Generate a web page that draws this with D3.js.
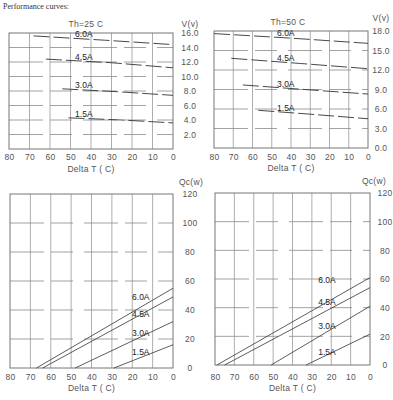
<!DOCTYPE html>
<html>
<head>
<meta charset="utf-8">
<script src="https://cdn.jsdelivr.net/npm/d3@7"></script>
<style>
  body { margin: 0; background: #fff; }
  svg text { font-family: 'Liberation Sans', Arial, sans-serif; font-size: 8.5px; fill: #555; letter-spacing: 0.3px; }
  svg text.clabel { fill: #222; letter-spacing: 0; }
  svg text.caption { font-family: 'Liberation Serif', 'Times New Roman', serif; font-size: 8px; fill: #333; letter-spacing: 0; }
</style>
</head>
<body>
<svg id="chart" width="393" height="400"></svg>
<script>
// tick values / labels
var deltaTTicks = [80, 70, 60, 50, 40, 30, 20, 10, 0];
var voltTicks25 = [2, 4, 6, 8, 10, 12, 14, 16];
var voltTicks50 = [0, 3, 6, 9, 12, 15, 18];
var qcTicks = [0, 20, 40, 60, 80, 100, 120];
var currentLabels = ['6.0A', '4.5A', '3.0A', '1.5A'];

// voltage vs delta T, Th = 25 C  ([deltaT, V])
var volt25_6A = [[68, 15.6], [33, 15.0], [0, 14.4]];
var volt25_45A = [[62, 12.4], [30, 11.9], [0, 11.2]];
var volt25_3A = [[54, 8.3], [27, 7.9], [0, 7.4]];
var volt25_15A = [[51, 4.3], [25, 4.0], [0, 3.6]];

// voltage vs delta T, Th = 50 C
var volt50_6A = [[80, 17.6], [40, 16.9], [0, 16.1]];
var volt50_45A = [[71, 13.8], [35, 13.0], [0, 12.2]];
var volt50_3A = [[65, 9.7], [33, 9.0], [0, 8.3]];
var volt50_15A = [[57, 5.8], [30, 5.2], [0, 4.5]];

// cooling power vs delta T, Th = 25 C  ([deltaT, Qc])
var qc25_6A = [[67, 0], [0, 55]];
var qc25_45A = [[64, 0], [0, 49]];
var qc25_3A = [[48, 0], [0, 32]];
var qc25_15A = [[29, 0], [0, 16]];

// cooling power vs delta T, Th = 50 C
var qc50_6A = [[79, 0], [0, 61]];
var qc50_45A = [[75, 0], [0, 54]];
var qc50_3A = [[51, 0], [0, 41]];
var qc50_15A = [[33, 0], [0, 21.5]];

// where the current labels sit on the Qc charts
var qcLabelAt25 = [47, 35, 22, 9];
var qcLabelAt50 = [57, 42, 25, 7];

var svg = d3.select('#chart');

svg.append('text')
  .attr('class', 'caption')
  .attr('x', 3)
  .attr('y', 9)
  .text('Performance curves:');

var panels = [
  { left: 9, right: 173, top: 33, bottom: 149, yDomain: [0, 16], yTicks: voltTicks25, fmt: d3.format('.1f'),
    curves: [volt25_6A, volt25_45A, volt25_3A, volt25_15A], dashed: true, labelDeltaT: 43.5,
    title: 'Th=25 C', titleX: 86, titleY: 27, yTitle: 'V(v)', yLabelX: 190, yTitleX: 190, yTitleY: 27, xAxisY: 154, xTitleY: 172 },
  { left: 214, right: 368, top: 31, bottom: 148, yDomain: [0, 18], yTicks: voltTicks50, fmt: d3.format('.1f'),
    curves: [volt50_6A, volt50_45A, volt50_3A, volt50_15A], dashed: true, labelDeltaT: 42.7,
    title: 'Th=50 C', titleX: 288, titleY: 25, yTitle: 'V(v)', yLabelX: 381, yTitleX: 381, yTitleY: 21, xAxisY: 154, xTitleY: 171 },
  { left: 10, right: 173, top: 194, bottom: 368, yDomain: [0, 120], yTicks: qcTicks, fmt: d3.format('d'),
    curves: [qc25_6A, qc25_45A, qc25_3A, qc25_15A], dashed: false, labelDeltaT: 15.8, labelAt: qcLabelAt25,
    yTitle: 'Qc(w)', yLabelX: 190, yTitleX: 191, yTitleY: 185, xAxisY: 374, xTitleY: 391 },
  { left: 215, right: 370, top: 193, bottom: 365, yDomain: [0, 120], yTicks: qcTicks, fmt: d3.format('d'),
    curves: [qc50_6A, qc50_45A, qc50_3A, qc50_15A], dashed: false, labelDeltaT: 22.2, labelAt: qcLabelAt50,
    yTitle: 'Qc(w)', yLabelX: 385, yTitleX: 374, yTitleY: 184, xAxisY: 374, xTitleY: 391 }
];

panels.forEach(drawPanel);

function drawPanel(p) {
  var x = d3.scaleLinear().domain([80, 0]).range([p.left, p.right]);
  var y = d3.scaleLinear().domain(p.yDomain).range([p.bottom, p.top]);
  var g = svg.append('g');

  // vertical grid
  g.selectAll('.vgrid')
    .data(deltaTTicks.slice(1, -1))
    .enter()
    .append('line')
    .attr('x1', function(d) { return x(d); })
    .attr('x2', function(d) { return x(d); })
    .attr('y1', p.top)
    .attr('y2', p.bottom)
    .attr('stroke', '#999')
    .attr('stroke-width', 0.8);

  // horizontal grid, broken like the scan
  g.selectAll('.hgrid')
    .data(p.yTicks.filter(function(d) { return d > p.yDomain[0] && d < p.yDomain[1]; }))
    .enter()
    .append('line')
    .attr('x1', p.left)
    .attr('x2', p.right)
    .attr('y1', function(d) { return y(d); })
    .attr('y2', function(d) { return y(d); })
    .attr('stroke', '#8a8a8a')
    .attr('stroke-width', 0.8)
    .attr('stroke-dasharray', '34,7,22,11');

  // frame
  g.append('rect')
    .attr('x', p.left)
    .attr('y', p.top)
    .attr('width', p.right - p.left)
    .attr('height', p.bottom - p.top)
    .attr('fill', 'none')
    .attr('stroke', '#777')
    .attr('stroke-width', 1);

  // curves
  var line = d3.line()
    .x(function(d) { return x(d[0]); })
    .y(function(d) { return y(d[1]); });

  g.selectAll('.curve')
    .data(p.curves)
    .enter()
    .append('path')
    .attr('d', line)
    .attr('fill', 'none')
    .attr('stroke', '#333')
    .attr('stroke-width', p.dashed ? 0.9 : 0.8)
    .attr('stroke-dasharray', p.dashed ? '16,4' : null);

  // current labels
  g.selectAll('.clabel')
    .data(p.curves)
    .enter()
    .append('text')
    .attr('class', 'clabel')
    .attr('text-anchor', 'middle')
    .attr('x', x(p.labelDeltaT))
    .attr('y', function(d, i) {
      if (p.labelAt) return y(p.labelAt[i]);
      var along = d3.scaleLinear()
        .domain(d.map(function(pt) { return pt[0]; }))
        .range(d.map(function(pt) { return pt[1]; }));
      return y(along(p.labelDeltaT)) - 1.5;
    })
    .text(function(d, i) { return currentLabels[i]; });

  // x axis labels
  var xAxis = d3.axisBottom(x).tickValues(deltaTTicks).tickSize(0).tickPadding(0);
  var xg = g.append('g')
    .attr('transform', 'translate(0,' + p.xAxisY + ')')
    .call(xAxis);
  xg.select('.domain').remove();

  // y axis labels on the right
  var yAxis = d3.axisRight(y).tickValues(p.yTicks).tickSize(0).tickFormat(p.fmt);
  var yg = g.append('g')
    .attr('transform', 'translate(' + p.yLabelX + ',0)')
    .call(yAxis);
  yg.select('.domain').remove();
  yg.selectAll('text').attr('x', 0).attr('text-anchor', 'middle');

  // titles
  g.append('text')
    .attr('x', (p.left + p.right) / 2)
    .attr('y', p.xTitleY)
    .attr('text-anchor', 'middle')
    .text('Delta  T ( C)');

  g.append('text')
    .attr('x', p.yTitleX)
    .attr('y', p.yTitleY)
    .attr('text-anchor', 'middle')
    .text(p.yTitle);

  if (p.title) {
    g.append('text')
      .attr('x', p.titleX)
      .attr('y', p.titleY)
      .attr('text-anchor', 'middle')
      .text(p.title);
  }
}
</script>
</body>
</html>
